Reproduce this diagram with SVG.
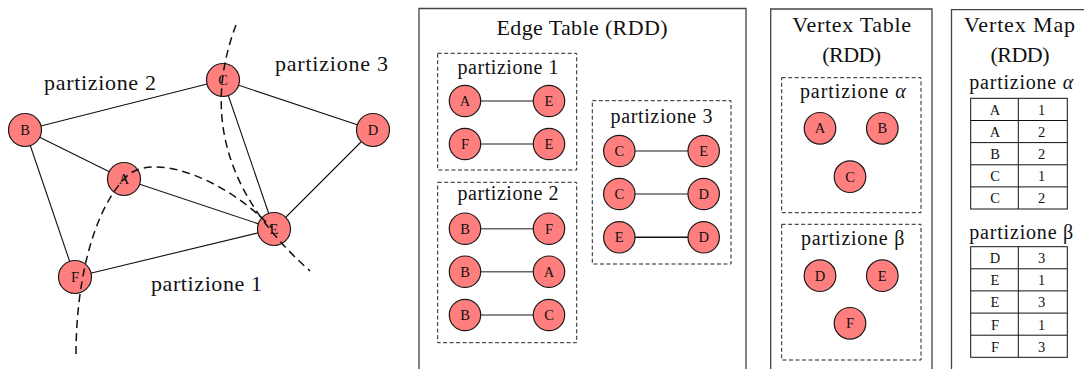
<svg xmlns="http://www.w3.org/2000/svg" width="1084" height="369" viewBox="0 0 1084 369">
<style>
text{font-family:"Liberation Serif","Times New Roman",serif;fill:#111}
.n circle{fill:#ff7f7f;stroke:#1a1a1a;stroke-width:1.2}
.n text{font-size:14.5px;text-anchor:middle}
.e{stroke:#111;stroke-width:1.1;fill:none}
.g{stroke:#666;stroke-width:1.6;fill:none}
.cut{stroke:#111;stroke-width:1.5;fill:none;stroke-dasharray:8,5}
.box{fill:none;stroke:#444;stroke-width:1.3}
.dbox{fill:none;stroke:#222;stroke-width:1;stroke-dasharray:4,2.5}
.lbl{font-size:22px}
.plbl{font-size:20px;text-anchor:middle}
.ttl{font-size:22px;text-anchor:middle}
.cell{fill:none;stroke:#111;stroke-width:1}
.tc{font-size:14.5px;text-anchor:middle}
</style>

<!-- Left graph -->
<g id="graph-edges">
<line class="e" x1="25" y1="130" x2="223" y2="80"/>
<line class="e" x1="223" y1="80" x2="373" y2="130"/>
<line class="e" x1="25" y1="130" x2="124" y2="179"/>
<line class="e" x1="124" y1="179" x2="274" y2="229"/>
<line class="e" x1="25" y1="130" x2="75" y2="277"/>
<line class="e" x1="75" y1="277" x2="274" y2="229"/>
<line class="e" x1="223" y1="80" x2="274" y2="229"/>
<line class="e" x1="373" y1="130" x2="274" y2="229"/>
</g>
<g id="node-B" class="n"><circle cx="25" cy="130" r="16.5"/><text x="25" y="135">B</text></g>
<g id="node-C" class="n"><circle cx="223" cy="80" r="16.5"/><text x="223" y="85">C</text></g>
<g id="node-D" class="n"><circle cx="373" cy="130" r="16.5"/><text x="373" y="135">D</text></g>
<g id="node-A" class="n"><circle cx="124" cy="179" r="16.5"/><text x="124" y="184">A</text></g>
<g id="node-E" class="n"><circle cx="274" cy="229" r="16.5"/><text x="274" y="234">E</text></g>
<g id="node-F" class="n"><circle cx="75" cy="277" r="16.5"/><text x="75" y="282">F</text></g>
<g id="cuts">
<path class="cut" d="M236,25 Q185,160 310,271"/>
<path class="cut" d="M76,354 C76,290 90,215 125,178 C150,150 225,178 272,228"/>
</g>
<text class="lbl" x="275" y="71" textLength="113">partizione 3</text>
<text class="lbl" x="44" y="90" textLength="112">partizione 2</text>
<text class="lbl" x="151" y="291" textLength="111">partizione 1</text>

<!-- Edge Table -->
<g id="edge-table">
<path class="box" d="M419,370 V8.5 H746 V370"/>
<text class="ttl" x="582" y="35" textLength="171">Edge Table (RDD)</text>
</g>
<g id="edge-part-1">
<rect class="dbox" x="437.7" y="53.3" width="139" height="116.7"/>
<text class="plbl" x="508" y="74" textLength="101">partizione 1</text>
<line class="g" x1="465" y1="101" x2="549" y2="101"/>
<line class="g" x1="465" y1="144" x2="549" y2="144"/>
<g class="n"><circle cx="465" cy="101" r="15.7"/><text x="465" y="106">A</text></g>
<g class="n"><circle cx="549" cy="101" r="15.7"/><text x="549" y="106">E</text></g>
<g class="n"><circle cx="465" cy="144" r="15.7"/><text x="465" y="149">F</text></g>
<g class="n"><circle cx="549" cy="144" r="15.7"/><text x="549" y="149">E</text></g>
</g>
<g id="edge-part-2">
<rect class="dbox" x="437.7" y="182.3" width="139" height="160.4"/>
<text class="plbl" x="508" y="200" textLength="101">partizione 2</text>
<line class="g" x1="465" y1="228.7" x2="549" y2="228.7"/>
<line class="g" x1="465" y1="271.7" x2="549" y2="271.7"/>
<line class="g" x1="465" y1="315" x2="549" y2="315"/>
<g class="n"><circle cx="465" cy="228.7" r="15.7"/><text x="465" y="233.7">B</text></g>
<g class="n"><circle cx="549" cy="228.7" r="15.7"/><text x="549" y="233.7">F</text></g>
<g class="n"><circle cx="465" cy="271.7" r="15.7"/><text x="465" y="276.7">B</text></g>
<g class="n"><circle cx="549" cy="271.7" r="15.7"/><text x="549" y="276.7">A</text></g>
<g class="n"><circle cx="465" cy="315" r="15.7"/><text x="465" y="320">B</text></g>
<g class="n"><circle cx="549" cy="315" r="15.7"/><text x="549" y="320">C</text></g>
</g>
<g id="edge-part-3">
<rect class="dbox" x="592.3" y="100.7" width="138.7" height="163.3"/>
<text class="plbl" x="661.5" y="122.7" textLength="102">partizione 3</text>
<line class="g" x1="619.3" y1="151" x2="703.7" y2="151"/>
<line class="g" x1="619.3" y1="194" x2="703.7" y2="194"/>
<line class="e" x1="619.3" y1="237.3" x2="703.7" y2="237.3" style="stroke-width:1.5"/>
<g class="n"><circle cx="619.3" cy="151" r="15.7"/><text x="619.3" y="156">C</text></g>
<g class="n"><circle cx="703.7" cy="151" r="15.7"/><text x="703.7" y="156">E</text></g>
<g class="n"><circle cx="619.3" cy="194" r="15.7"/><text x="619.3" y="199">C</text></g>
<g class="n"><circle cx="703.7" cy="194" r="15.7"/><text x="703.7" y="199">D</text></g>
<g class="n"><circle cx="619.3" cy="237.3" r="15.7"/><text x="619.3" y="242.3">E</text></g>
<g class="n"><circle cx="703.7" cy="237.3" r="15.7"/><text x="703.7" y="242.3">D</text></g>
</g>

<!-- Vertex Table -->
<g id="vertex-table">
<path class="box" d="M770.7,370 V9 H932 V370"/>
<text class="ttl" x="851.7" y="32.3" textLength="118.7">Vertex Table</text>
<text class="ttl" x="851.7" y="61.7" textLength="59">(RDD)</text>
</g>
<g id="vertex-part-alpha">
<rect class="dbox" x="781.7" y="77.7" width="139.3" height="135"/>
<text class="plbl" x="852.8" y="98.3" textLength="105.7">partizione <tspan font-style="italic">α</tspan></text>
<g class="n"><circle cx="820" cy="128.3" r="15.8"/><text x="820" y="133.3">A</text></g>
<g class="n"><circle cx="882.3" cy="128.3" r="15.8"/><text x="882.3" y="133.3">B</text></g>
<g class="n"><circle cx="850" cy="176.7" r="15.8"/><text x="850" y="181.7">C</text></g>
</g>
<g id="vertex-part-beta">
<rect class="dbox" x="781.7" y="224.3" width="139.3" height="135.7"/>
<text class="plbl" x="852.7" y="245" textLength="103.3">partizione β</text>
<g class="n"><circle cx="820" cy="275.7" r="15.8"/><text x="820" y="280.7">D</text></g>
<g class="n"><circle cx="882.3" cy="275.7" r="15.8"/><text x="882.3" y="280.7">E</text></g>
<g class="n"><circle cx="850" cy="323.3" r="15.8"/><text x="850" y="328.3">F</text></g>
</g>

<!-- Vertex Map -->
<g id="vertex-map">
<path class="box" d="M951.5,370 V9.7 H1090"/>
<text class="ttl" x="1019.5" y="32.3" textLength="111">Vertex Map</text>
<text class="ttl" x="1020" y="61.7" textLength="59">(RDD)</text>
</g>
<g id="map-part-alpha">
<text class="plbl" x="1021.3" y="89.3" textLength="104">partizione <tspan font-style="italic">α</tspan></text>
<rect class="cell" x="970.7" y="98.3" width="96.6" height="110.7"/>
<line class="cell" x1="1018.3" y1="98.3" x2="1018.3" y2="209"/>
<line class="cell" x1="970.7" y1="120.5" x2="1067.3" y2="120.5"/>
<line class="cell" x1="970.7" y1="142.6" x2="1067.3" y2="142.6"/>
<line class="cell" x1="970.7" y1="164.8" x2="1067.3" y2="164.8"/>
<line class="cell" x1="970.7" y1="186.9" x2="1067.3" y2="186.9"/>
<text class="tc" x="995" y="114.8">A</text><text class="tc" x="1041.7" y="114.8">1</text>
<text class="tc" x="995" y="136.9">A</text><text class="tc" x="1041.7" y="136.9">2</text>
<text class="tc" x="995" y="159.1">B</text><text class="tc" x="1041.7" y="159.1">2</text>
<text class="tc" x="995" y="181.2">C</text><text class="tc" x="1041.7" y="181.2">1</text>
<text class="tc" x="995" y="203.3">C</text><text class="tc" x="1041.7" y="203.3">2</text>
</g>
<g id="map-part-beta">
<text class="plbl" x="1021.3" y="238.5" textLength="104">partizione β</text>
<rect class="cell" x="970.7" y="246.7" width="96.6" height="110.6"/>
<line class="cell" x1="1018.3" y1="246.7" x2="1018.3" y2="357.3"/>
<line class="cell" x1="970.7" y1="268.8" x2="1067.3" y2="268.8"/>
<line class="cell" x1="970.7" y1="290.9" x2="1067.3" y2="290.9"/>
<line class="cell" x1="970.7" y1="313.1" x2="1067.3" y2="313.1"/>
<line class="cell" x1="970.7" y1="335.2" x2="1067.3" y2="335.2"/>
<text class="tc" x="995" y="263.2">D</text><text class="tc" x="1041.7" y="263.2">3</text>
<text class="tc" x="995" y="285.3">E</text><text class="tc" x="1041.7" y="285.3">1</text>
<text class="tc" x="995" y="307.4">E</text><text class="tc" x="1041.7" y="307.4">3</text>
<text class="tc" x="995" y="329.5">F</text><text class="tc" x="1041.7" y="329.5">1</text>
<text class="tc" x="995" y="351.6">F</text><text class="tc" x="1041.7" y="351.6">3</text>
</g>
</svg>
